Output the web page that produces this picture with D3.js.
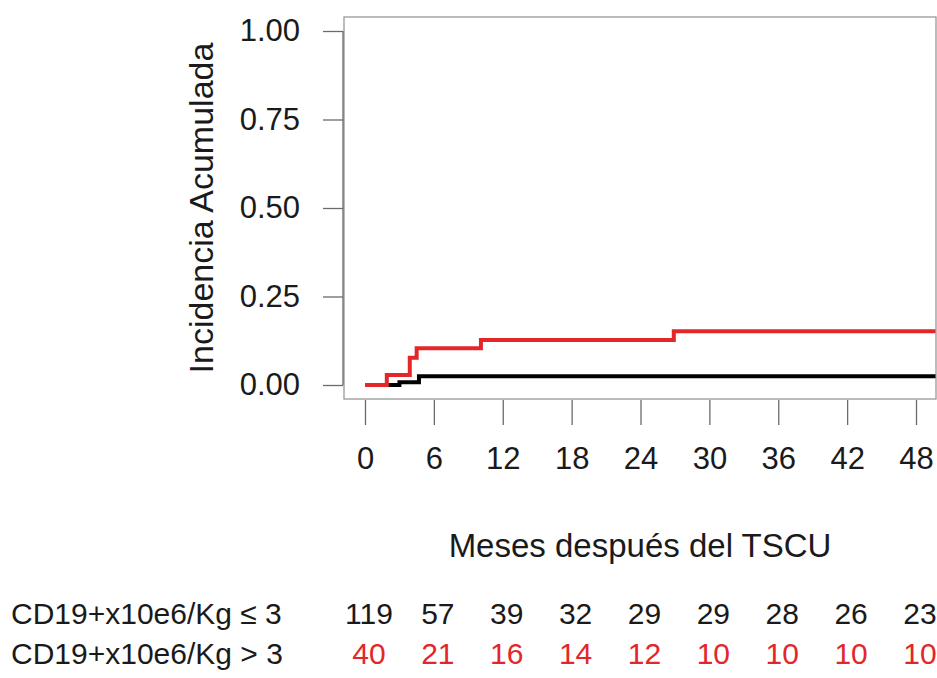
<!DOCTYPE html>
<html>
<head>
<meta charset="utf-8">
<script src="https://cdn.jsdelivr.net/npm/d3@7"></script>
<style>
  body { margin: 0; background: #fff; }
  text { font-family: "Liberation Sans", Arial, sans-serif; fill: #1a1a1a; }
</style>
</head>
<body>
<div id="chartid"></div>
<script>
"use strict"

// tick labels
var monthTicks = [0, 6, 12, 18, 24, 30, 36, 42, 48];
var yTicks = [0, 0.25, 0.5, 0.75, 1];

// step curves: time (months) and cumulative incidence
var lowTime = [0, 3.0, 4.7, 49.7];
var lowCif = [0, 0.008, 0.025, 0.025];
var highTime = [0, 1.9, 3.9, 4.5, 10.1, 26.9, 49.7];
var highCif = [0, 0.028, 0.077, 0.104, 0.127, 0.152, 0.152];

// numbers at risk
var groups = ["CD19+x10e6/Kg \u2264 3", "CD19+x10e6/Kg > 3"];
var atRiskLow = [119, 57, 39, 32, 29, 29, 28, 26, 23];
var atRiskHigh = [40, 21, 16, 14, 12, 10, 10, 10, 10];

var red = "#e3262a";

function createChart(){
  var svg = d3.select("#chartid").append("svg")
    .attr("width", 937)
    .attr("height", 678);

  var box = { left: 344, right: 936, top: 17, bottom: 399 };

  var x = d3.scaleLinear().domain([0, 48]).range([365, 916]);
  var y = d3.scaleLinear().domain([0, 1]).range([385, 31]);

  svg.append("defs").append("clipPath").attr("id", "clip")
    .append("rect")
    .attr("x", box.left).attr("y", box.top)
    .attr("width", box.right - box.left).attr("height", box.bottom - box.top);

  // plot box
  svg.append("rect")
    .attr("x", box.left).attr("y", box.top)
    .attr("width", box.right - box.left).attr("height", box.bottom - box.top)
    .attr("fill", "none").attr("stroke", "#999").attr("stroke-width", 1.3);

  // y axis
  var yAxis = d3.axisLeft(y).tickValues(yTicks).tickSize(20).tickPadding(23)
    .tickFormat(d3.format(".2f"));
  var gy = svg.append("g").attr("transform", "translate(" + (box.left - 1) + ",0)").call(yAxis);
  gy.select(".domain").attr("stroke", "#6a6a6a").attr("stroke-width", 1.3)
    .attr("d", "M0," + y(1) + "V" + y(0));
  gy.selectAll(".tick line").attr("stroke", "#6a6a6a").attr("stroke-width", 1.3);
  gy.selectAll(".tick text").style("font-size", "31px").attr("fill", "#1a1a1a");

  // x axis
  var xAxis = d3.axisBottom(x).tickValues(monthTicks).tickSize(25).tickPadding(22);
  var gx = svg.append("g").attr("transform", "translate(0," + (box.bottom + 1) + ")").call(xAxis);
  gx.select(".domain").remove();
  gx.selectAll(".tick line").attr("stroke", "#6a6a6a").attr("stroke-width", 1.3);
  gx.selectAll(".tick text").style("font-size", "31px").attr("fill", "#1a1a1a");

  // axis titles
  svg.append("text")
    .attr("transform", "translate(213,208) rotate(-90)")
    .attr("text-anchor", "middle")
    .style("font-size", "34px")
    .text("Incidencia Acumulada");

  svg.append("text")
    .attr("x", 640).attr("y", 557)
    .attr("text-anchor", "middle")
    .style("font-size", "33px")
    .text("Meses despu\u00e9s del TSCU");

  // curves
  var line = d3.line()
    .x(function(d) { return x(d[0]); })
    .y(function(d) { return y(d[1]); })
    .curve(d3.curveStepAfter);

  var lowData = d3.zip(lowTime, lowCif);
  var highData = d3.zip(highTime, highCif);

  var plot = svg.append("g").attr("clip-path", "url(#clip)");
  plot.append("path").datum(lowData)
    .attr("fill", "none").attr("stroke", "#000").attr("stroke-width", 4)
    .attr("d", line);
  plot.append("path").datum(highData)
    .attr("fill", "none").attr("stroke", red).attr("stroke-width", 4)
    .attr("d", line);

  // risk table
  var rows = [atRiskLow, atRiskHigh];
  var rowY = [624, 664];
  var colors = ["#1a1a1a", red];
  rows.forEach(function(vals, i) {
    svg.append("text")
      .attr("x", 11).attr("y", rowY[i])
      .style("font-size", "30px")
      .text(groups[i]);
    svg.append("g").selectAll("text")
      .data(vals)
      .join("text")
      .attr("x", function(d, j) { return x(monthTicks[j]) + 4; })
      .attr("y", rowY[i])
      .attr("text-anchor", "middle")
      .style("font-size", "30px")
      .style("fill", colors[i])
      .text(function(d) { return d; });
  });
}

createChart();
</script>
</body>
</html>
